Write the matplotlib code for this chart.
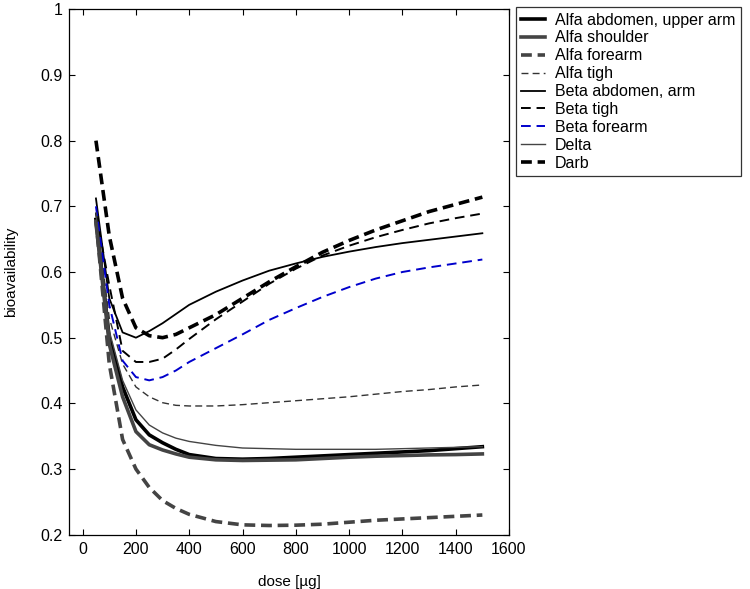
import matplotlib
matplotlib.use("Agg")
import matplotlib.pyplot as plt
from matplotlib.ticker import FuncFormatter

plt.rcParams['font.family'] = ['Liberation Sans', 'DejaVu Sans']

dose = [50, 100, 150, 200, 250, 300, 350, 400, 500, 600, 700, 800, 900, 1000, 1100, 1200, 1300, 1400, 1500]

alfa_abdomen = [0.68, 0.50, 0.425, 0.375, 0.352, 0.340, 0.330, 0.322, 0.316, 0.315, 0.316, 0.318, 0.320, 0.322, 0.324, 0.326, 0.328, 0.331, 0.334]
alfa_shoulder = [0.675, 0.49, 0.410, 0.357, 0.337, 0.329, 0.323, 0.318, 0.314, 0.313, 0.3135, 0.314, 0.316, 0.318, 0.3195, 0.3205, 0.3215, 0.322, 0.323]
alfa_forearm = [0.68, 0.46, 0.345, 0.300, 0.272, 0.252, 0.240, 0.231, 0.220, 0.215, 0.214, 0.2145, 0.216, 0.219, 0.222, 0.224, 0.226, 0.228, 0.230]
alfa_tigh = [0.69, 0.53, 0.460, 0.425, 0.410, 0.401, 0.397, 0.396, 0.396, 0.398, 0.401, 0.404, 0.407, 0.410, 0.414, 0.418, 0.421, 0.425, 0.428]
beta_abdomen = [0.712, 0.56, 0.508, 0.500, 0.510, 0.522, 0.536, 0.550, 0.570, 0.587, 0.602, 0.613, 0.623, 0.631, 0.638, 0.644, 0.649, 0.654, 0.659]
beta_tigh = [0.69, 0.58, 0.480, 0.463, 0.463, 0.468, 0.482, 0.498, 0.528, 0.555, 0.582, 0.605, 0.625, 0.640, 0.653, 0.664, 0.674, 0.682, 0.689]
beta_forearm = [0.70, 0.55, 0.465, 0.440, 0.435, 0.440, 0.450, 0.463, 0.484, 0.505, 0.527, 0.545, 0.562, 0.577, 0.590, 0.600, 0.607, 0.613, 0.619]
delta = [0.69, 0.51, 0.435, 0.390, 0.367, 0.355, 0.347, 0.342, 0.336, 0.332, 0.331, 0.330, 0.330, 0.330, 0.330, 0.331, 0.332, 0.333, 0.334]
darb = [0.80, 0.655, 0.560, 0.515, 0.503, 0.500, 0.505, 0.515, 0.535, 0.560, 0.585, 0.608, 0.630, 0.648, 0.664, 0.678, 0.692, 0.703, 0.714]

labels = ["Alfa abdomen, upper arm", "Alfa shoulder", "Alfa forearm", "Alfa tigh",
          "Beta abdomen, arm", "Beta tigh", "Beta forearm", "Delta", "Darb"]

fig = plt.figure(figsize=(7.5, 5.89), dpi=100)
ax = fig.add_axes([69.3/750, 1 - 534.7/589, (509 - 69.3)/750, (534.7 - 9.3)/589])

styles = [
    (alfa_abdomen, dict(color='black', lw=2.6, ls='-')),
    (alfa_shoulder, dict(color='#444444', lw=2.6, ls='-')),
    (alfa_forearm, dict(color='#444444', lw=2.6, ls=(0, (3, 1.6)))),
    (alfa_tigh, dict(color='#333333', lw=1.0, ls=(0, (5, 3)))),
    (beta_abdomen, dict(color='black', lw=1.3, ls='-')),
    (beta_tigh, dict(color='black', lw=1.4, ls=(0, (5, 3)))),
    (beta_forearm, dict(color='#0000cc', lw=1.4, ls=(0, (5, 3)))),
    (delta, dict(color='#444444', lw=1.0, ls='-')),
    (darb, dict(color='black', lw=2.6, ls=(0, (3, 1.6)))),
]
for (vals, st), lab in zip(styles, labels):
    ax.plot(dose, vals, label=lab, **st)

ax.set_xlim(-50, 1600)
ax.set_ylim(0.2, 1.0)
ax.set_xticks(range(0, 1601, 200))
ax.set_yticks([0.2, 0.3, 0.4, 0.5, 0.6, 0.7, 0.8, 0.9, 1.0])
ax.yaxis.set_major_formatter(FuncFormatter(lambda v, p: ('%g' % round(v, 1))))
ax.tick_params(direction='in', top=True, right=True, length=4, labelsize=11.5, width=0.8, pad=5)
for s in ax.spines.values():
    s.set_linewidth(0.9)

ax.set_xlabel('dose [\u00b5g]', fontsize=11, labelpad=13)
ax.set_ylabel('bioavailability', fontsize=11, labelpad=16)

leg = ax.legend(loc='upper left', bbox_to_anchor=(515.7/750, 1 - 7/589), bbox_transform=fig.transFigure,
                fontsize=11.5, frameon=True, fancybox=False, edgecolor='black', handlelength=1.5,
                handletextpad=0.6, borderpad=0.35, labelspacing=0.18, borderaxespad=0)
leg.get_frame().set_linewidth(0.9)

fig.savefig('out.png', dpi=100)
